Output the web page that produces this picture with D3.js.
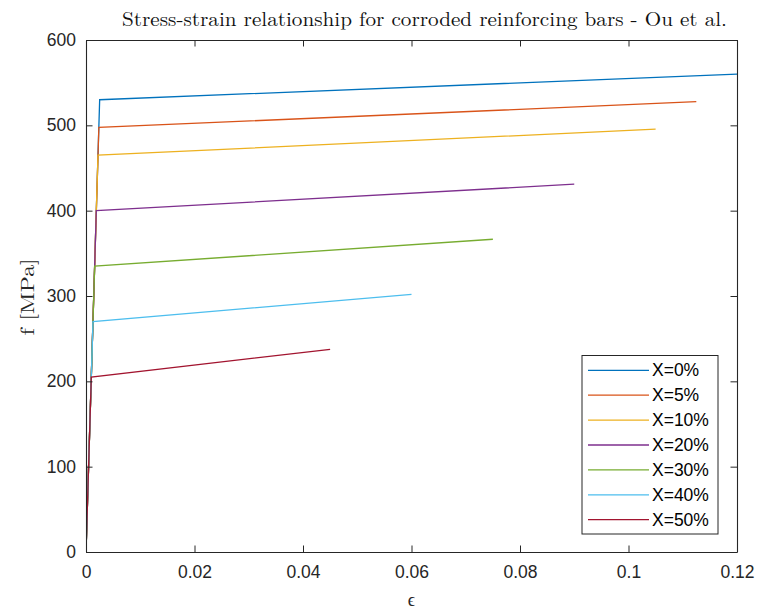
<!DOCTYPE html>
<html>
<head>
<meta charset="utf-8">
<script src="https://cdn.jsdelivr.net/npm/d3@7"></script>
<style>
  html, body { margin: 0; padding: 0; background: #fff; }
  svg { display: block; }
</style>
</head>
<body>
<svg id="chart" width="758" height="611"></svg>
<script>
// Corrosion levels and the bilinear stress-strain points of each bar
const seriesNames = ["X=0%", "X=5%", "X=10%", "X=20%", "X=30%", "X=40%", "X=50%"];
const yieldStrain = [0.00252, 0.00237, 0.00221, 0.0019, 0.0016, 0.00129, 0.00098];
const yieldStress = [530, 497.5, 465, 400, 335, 270, 205];
const ultStrain   = [0.12, 0.1125, 0.105, 0.09, 0.075, 0.06, 0.045];
const ultStress   = [560, 527.7, 495.5, 431, 366.5, 302, 237.5];
const colors = ["#0072BD", "#D95319", "#EDB120", "#7E2F8E", "#77AC30", "#4DBEEE", "#A2142F"];
const xTicks = [0, 0.02, 0.04, 0.06, 0.08, 0.1, 0.12];
const xTickLabels = ["0", "0.02", "0.04", "0.06", "0.08", "0.1", "0.12"];
const yTicks = [0, 100, 200, 300, 400, 500, 600];

const svg = d3.select("#chart");
const plotL = 86, plotR = 737, plotT = 40, plotB = 552;
const axisColor = "#262626";
const sans = "Helvetica, Arial, 'Liberation Sans', sans-serif";
const serif = "'Latin Modern Roman', 'CMU Serif', 'Liberation Serif', serif";

const x = d3.scaleLinear().domain([0, 0.12]).range([plotL, plotR]);
const y = d3.scaleLinear().domain([0, 600]).range([plotB, plotT]);

const tickLen = 6.5;

// Data curves, clipped to the axes box
svg.append("defs").append("clipPath").attr("id", "plotclip")
  .append("rect").attr("x", plotL).attr("y", plotT)
  .attr("width", plotR - plotL).attr("height", plotB - plotT);

const line = d3.line().x(d => x(d[0])).y(d => y(d[1]));
const plot = svg.append("g").attr("clip-path", "url(#plotclip)");
seriesNames.forEach((name, i) => {
  const pts = [[0, 0], [yieldStrain[i], yieldStress[i]], [ultStrain[i], ultStress[i]]];
  plot.append("path")
    .attr("d", line(pts))
    .attr("fill", "none")
    .attr("stroke", colors[i])
    .attr("stroke-width", 1.3)
    .attr("stroke-linejoin", "miter");
});

// Box axes with inward ticks on all four sides
const axes = svg.append("g");
const xAxisB = d3.axisBottom(x).tickValues(xTicks).tickSizeInner(-tickLen).tickSizeOuter(0)
  .tickFormat((d, i) => xTickLabels[i]).tickPadding(14);
const xAxisT = d3.axisTop(x).tickValues(xTicks).tickSizeInner(-tickLen).tickSizeOuter(0).tickFormat("");
const yAxisL = d3.axisLeft(y).tickValues(yTicks).tickSizeInner(-tickLen).tickSizeOuter(0).tickPadding(10);
const yAxisR = d3.axisRight(y).tickValues(yTicks).tickSizeInner(-tickLen).tickSizeOuter(0).tickFormat("");

function styleAxis(g) {
  g.select(".domain").attr("stroke", axisColor).attr("stroke-width", 1.1);
  g.selectAll(".tick line").attr("stroke", axisColor).attr("stroke-width", 1);
  g.selectAll(".tick text").attr("fill", axisColor)
    .style("font-family", sans).style("font-size", "17.5px");
}
axes.append("g").attr("transform", `translate(0,${plotB})`).call(xAxisB).call(styleAxis);
axes.append("g").attr("transform", `translate(0,${plotT})`).call(xAxisT).call(styleAxis);
axes.append("g").attr("transform", `translate(${plotL},0)`).call(yAxisL).call(styleAxis);
axes.append("g").attr("transform", `translate(${plotR},0)`).call(yAxisR).call(styleAxis);

// Title and axis labels
svg.append("text")
  .attr("x", (plotL + plotR) / 2 + 13).attr("y", 26)
  .attr("text-anchor", "middle")
  .attr("textLength", 605).attr("lengthAdjust", "spacingAndGlyphs")
  .style("font-family", serif).style("font-size", "19.5px").attr("fill", "#111")
  .text("Stress-strain relationship for corroded reinforcing bars - Ou et al.");

svg.append("text")
  .attr("x", (plotL + plotR) / 2).attr("y", 606)
  .attr("text-anchor", "middle")
  .style("font-family", serif).style("font-size", "18px").attr("fill", axisColor)
  .text("ϵ");

svg.append("text")
  .attr("transform", `translate(34,297) rotate(-90)`)
  .attr("text-anchor", "middle")
  .attr("textLength", 77).attr("lengthAdjust", "spacingAndGlyphs")
  .style("font-family", serif).style("font-size", "19px").attr("fill", axisColor)
  .text("f [MPa]");

// Legend
const lg = svg.append("g");
const lgX = 582, lgY = 355.5, lgW = 136, lgH = 178.5;
lg.append("rect").attr("x", lgX).attr("y", lgY).attr("width", lgW).attr("height", lgH)
  .attr("fill", "#fff").attr("stroke", axisColor).attr("stroke-width", 1);
const rowY = d3.scalePoint().domain(seriesNames).range([370.3, 519.7]);
seriesNames.forEach((name, i) => {
  const ry = rowY(name);
  lg.append("line").attr("x1", 588).attr("x2", 649).attr("y1", ry).attr("y2", ry)
    .attr("stroke", colors[i]).attr("stroke-width", 1.3);
  lg.append("text").attr("x", 652).attr("y", ry).attr("dy", "0.35em")
    .style("font-family", sans).style("font-size", "17.5px").attr("fill", "#000")
    .text(name);
});
</script>
</body>
</html>
